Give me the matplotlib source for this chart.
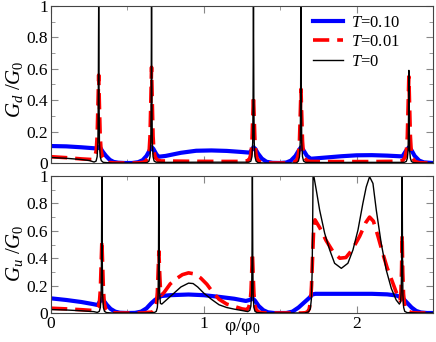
import matplotlib
matplotlib.use("Agg")
import matplotlib.pyplot as plt
from matplotlib.ticker import MultipleLocator

# ---- data (phi/phi0, G/G0) ----

# top panel: G_d
x_top_T0 = [0.0, 0.1, 0.2, 0.25, 0.282, 0.295, 0.302, 0.307, 0.3095, 0.311, 0.312, 0.313, 0.3145, 0.317, 0.322,
            0.329, 0.342, 0.4, 0.55, 0.628, 0.641, 0.648, 0.653, 0.6555, 0.657, 0.658, 0.659, 0.6605, 0.663, 0.668,
            0.675, 0.688, 0.75, 1.0, 1.2, 1.295, 1.308, 1.315, 1.320, 1.3225, 1.324, 1.325, 1.326, 1.3275, 1.330,
            1.335, 1.342, 1.355, 1.4, 1.55, 1.606, 1.619, 1.626, 1.631, 1.6335, 1.635, 1.636, 1.637, 1.6385, 1.641,
            1.646, 1.653, 1.666, 1.8, 2.0, 2.2, 2.312, 2.325, 2.332, 2.337, 2.3395, 2.341, 2.342, 2.343, 2.3445,
            2.347, 2.352, 2.359, 2.372, 2.42, 2.5]
y_top_T0 = [0.035, 0.03, 0.022, 0.016, 0.006, 0.012, 0.04, 0.13, 0.4, 0.8, 1.0, 0.8, 0.4, 0.13, 0.04,
            0.015, 0.004, 0.0, 0.0, 0.002, 0.012, 0.04, 0.13, 0.4, 0.8, 1.0, 0.8, 0.4, 0.13, 0.04,
            0.012, 0.005, 0.004, 0.005, 0.005, 0.005, 0.012, 0.04, 0.13, 0.4, 0.8, 1.0, 0.8, 0.4, 0.13,
            0.04, 0.012, 0.002, 0.0, 0.0, 0.0, 0.012, 0.04, 0.13, 0.4, 0.8, 1.0, 0.8, 0.4, 0.13,
            0.04, 0.012, 0.004, 0.003, 0.004, 0.004, 0.004, 0.01, 0.03, 0.08, 0.25, 0.48, 0.59, 0.48, 0.25,
            0.08, 0.03, 0.01, 0.002, 0.0, 0.0]

x_top_T001 = [0.0, 0.1, 0.2, 0.272, 0.287, 0.296, 0.302, 0.307, 0.312, 0.317, 0.322, 0.328, 0.337, 0.352, 0.38,
              0.42, 0.56, 0.60, 0.618, 0.633, 0.642, 0.648, 0.653, 0.658, 0.663, 0.668, 0.674, 0.683, 0.698, 0.72,
              0.9, 1.1, 1.25, 1.285, 1.300, 1.309, 1.315, 1.320, 1.325, 1.330, 1.335, 1.341, 1.350, 1.365, 1.39,
              1.45, 1.55, 1.596, 1.611, 1.620, 1.626, 1.631, 1.636, 1.641, 1.646, 1.652, 1.661, 1.676, 1.70,
              1.9, 2.1, 2.28, 2.302, 2.317, 2.326, 2.332, 2.337, 2.342, 2.347, 2.352, 2.358, 2.367, 2.382, 2.41,
              2.45, 2.5]
y_top_T001 = [0.04, 0.034, 0.026, 0.022, 0.04, 0.08, 0.17, 0.36, 0.56, 0.36, 0.17, 0.08, 0.035, 0.012, 0.003,
              0.0, 0.0, 0.004, 0.01, 0.03, 0.07, 0.17, 0.38, 0.61, 0.38, 0.17, 0.07, 0.035, 0.018, 0.013,
              0.011, 0.01, 0.01, 0.014, 0.028, 0.06, 0.13, 0.28, 0.43, 0.28, 0.13, 0.06, 0.025, 0.008, 0.002,
              0.0, 0.0, 0.005, 0.025, 0.06, 0.14, 0.3, 0.47, 0.3, 0.14, 0.06, 0.03, 0.014, 0.01,
              0.009, 0.009, 0.011, 0.016, 0.035, 0.08, 0.17, 0.36, 0.55, 0.36, 0.17, 0.07, 0.03, 0.01, 0.002,
              0.0, 0.0]

x_top_T010 = [0.0, 0.1, 0.2, 0.28, 0.3, 0.312, 0.322, 0.34, 0.36, 0.385, 0.41, 0.44, 0.48, 0.53, 0.57,
              0.6, 0.625, 0.645, 0.658, 0.67, 0.69, 0.705, 0.75, 0.85, 0.95, 1.05, 1.15, 1.25, 1.3, 1.315,
              1.325, 1.337, 1.355, 1.38, 1.41, 1.45, 1.5, 1.54, 1.57, 1.6, 1.62, 1.636, 1.65, 1.675, 1.7,
              1.8, 1.9, 2.0, 2.1, 2.2, 2.3, 2.325, 2.342, 2.36, 2.38, 2.41, 2.44, 2.5]
y_top_T010 = [0.108, 0.106, 0.1, 0.094, 0.092, 0.103, 0.097, 0.07, 0.045, 0.02, 0.007, 0.002, 0.0, 0.0, 0.005,
              0.018, 0.045, 0.08, 0.102, 0.09, 0.055, 0.04, 0.045, 0.065, 0.078, 0.08, 0.077, 0.07, 0.066, 0.085,
              0.1, 0.09, 0.06, 0.028, 0.008, 0.001, 0.0, 0.003, 0.015, 0.045, 0.078, 0.1, 0.085, 0.045, 0.027,
              0.035, 0.043, 0.049, 0.05, 0.047, 0.042, 0.08, 0.1, 0.08, 0.045, 0.015, 0.004, 0.0]

# bottom panel: G_u
x_bot_T0 = [0.0, 0.1, 0.2, 0.28, 0.303, 0.316, 0.323, 0.328, 0.3305, 0.332, 0.333, 0.334, 0.3355, 0.338, 0.343,
            0.350, 0.363, 0.40, 0.62, 0.676, 0.689, 0.696, 0.701, 0.7035, 0.705, 0.706, 0.707, 0.7085, 0.711, 0.716,
            0.725, 0.75, 0.8, 0.85, 0.9, 0.93, 0.96, 1.0, 1.05, 1.1, 1.15, 1.2, 1.25, 1.288, 1.301,
            1.308, 1.313, 1.3155, 1.317, 1.318, 1.319, 1.3205, 1.323, 1.328, 1.335, 1.348, 1.40, 1.66, 1.685, 1.697,
            1.704, 1.709, 1.712, 1.715, 1.72, 1.736, 1.758, 1.791, 1.824, 1.856, 1.9, 1.943, 1.976, 2.009, 2.041,
            2.063, 2.085, 2.107, 2.129, 2.161, 2.194, 2.227, 2.259, 2.28, 2.288, 2.292, 2.295, 2.297, 2.298, 2.299,
            2.3005, 2.303, 2.308, 2.315, 2.33, 2.4, 2.5]
y_bot_T0 = [0.025, 0.022, 0.016, 0.01, 0.004, 0.012, 0.04, 0.13, 0.4, 0.8, 1.0, 0.8, 0.4, 0.13, 0.04,
            0.012, 0.003, 0.0, 0.0, 0.003, 0.012, 0.04, 0.13, 0.4, 0.8, 1.0, 0.8, 0.4, 0.15, 0.07,
            0.065, 0.09, 0.14, 0.19, 0.218, 0.215, 0.19, 0.145, 0.1, 0.06, 0.04, 0.028, 0.018, 0.01, 0.02,
            0.05, 0.14, 0.4, 0.8, 1.0, 0.8, 0.4, 0.13, 0.04, 0.012, 0.003, 0.0, 0.0, 0.008, 0.03,
            0.1, 0.3, 0.6, 1.0, 1.0, 0.898, 0.752, 0.582, 0.46, 0.363, 0.326, 0.363, 0.46, 0.606, 0.8,
            0.92, 0.995, 0.946, 0.75, 0.509, 0.314, 0.18, 0.095, 0.065, 0.08, 0.16, 0.4, 0.8, 1.0, 0.8,
            0.4, 0.13, 0.04, 0.012, 0.003, 0.0, 0.0]

x_bot_T001 = [0.0, 0.1, 0.2, 0.28, 0.293, 0.308, 0.317, 0.323, 0.328, 0.333, 0.338, 0.343, 0.349, 0.358, 0.373,
              0.40, 0.44, 0.60, 0.64, 0.666, 0.681, 0.690, 0.696, 0.701, 0.706, 0.711, 0.716, 0.722, 0.74, 0.78,
              0.82, 0.86, 0.9, 0.94, 0.98, 1.02, 1.06, 1.1, 1.15, 1.2, 1.25, 1.28, 1.293, 1.303, 1.309,
              1.313, 1.318, 1.323, 1.328, 1.334, 1.343, 1.358, 1.38, 1.42, 1.64, 1.665, 1.68, 1.69, 1.70, 1.705,
              1.71, 1.715, 1.72, 1.728, 1.76, 1.80, 1.85, 1.89, 1.93, 1.97, 2.02, 2.06, 2.085, 2.11, 2.14,
              2.17, 2.2, 2.24, 2.27, 2.285, 2.29, 2.294, 2.298, 2.302, 2.307, 2.315, 2.33, 2.36, 2.4, 2.5]
y_bot_T001 = [0.035, 0.03, 0.024, 0.018, 0.02, 0.04, 0.08, 0.17, 0.35, 0.53, 0.35, 0.17, 0.07, 0.03, 0.01,
              0.002, 0.0, 0.0, 0.005, 0.006, 0.03, 0.07, 0.15, 0.3, 0.45, 0.3, 0.18, 0.13, 0.15, 0.212,
              0.25, 0.28, 0.293, 0.285, 0.255, 0.21, 0.15, 0.1, 0.065, 0.048, 0.03, 0.025, 0.04, 0.08, 0.16,
              0.28, 0.44, 0.28, 0.14, 0.06, 0.025, 0.008, 0.002, 0.0, 0.0, 0.002, 0.01, 0.03, 0.1, 0.2,
              0.35, 0.5, 0.64, 0.68, 0.62, 0.53, 0.44, 0.4, 0.405, 0.46, 0.56, 0.66, 0.7, 0.67, 0.56,
              0.44, 0.33, 0.21, 0.12, 0.09, 0.15, 0.3, 0.57, 0.3, 0.14, 0.05, 0.015, 0.003, 0.0, 0.0]

x_bot_T010 = [0.0, 0.1, 0.2, 0.28, 0.305, 0.32, 0.333, 0.345, 0.365, 0.39, 0.42, 0.45, 0.5, 0.55, 0.59,
              0.625, 0.655, 0.68, 0.70, 0.723, 0.78, 0.9, 1.0, 1.1, 1.2, 1.275, 1.3, 1.318, 1.335, 1.36,
              1.39, 1.42, 1.46, 1.54, 1.58, 1.62, 1.66, 1.69, 1.71, 1.73, 1.9, 2.1, 2.2, 2.26, 2.3,
              2.33, 2.36, 2.39, 2.42, 2.46, 2.5]
y_bot_T010 = [0.107, 0.095, 0.08, 0.064, 0.058, 0.085, 0.105, 0.09, 0.06, 0.03, 0.01, 0.002, 0.0, 0.001, 0.01,
              0.034, 0.07, 0.095, 0.11, 0.124, 0.13, 0.135, 0.13, 0.118, 0.104, 0.088, 0.095, 0.108, 0.09, 0.05,
              0.02, 0.005, 0.0, 0.0, 0.01, 0.04, 0.08, 0.11, 0.135, 0.14, 0.14, 0.14, 0.136, 0.128, 0.11,
              0.075, 0.04, 0.015, 0.004, 0.0, 0.0]

ytick_vals = [0, 0.2, 0.4, 0.6, 0.8, 1.0]
ytick_text = ["0", "0.2", "0.4", "0.6", "0.8", "1"]

plt.rcParams["font.family"] = "Liberation Serif"
plt.rcParams["mathtext.fontset"] = "custom"
plt.rcParams["mathtext.rm"] = "Liberation Serif"
plt.rcParams["mathtext.it"] = "Liberation Serif:italic"

fig = plt.figure(figsize=(4.36, 3.42), dpi=100)
ax1 = fig.add_axes([51 / 436, 1 - 163 / 342, 382 / 436, 157 / 342])
ax2 = fig.add_axes([51 / 436, 1 - 313 / 342, 382 / 436, 137 / 342])

dash = (4.5, 2.2)

ax1.plot(x_top_T010, y_top_T010, color="blue", lw=3.0, solid_joinstyle="round", label="$T$=0.10")
ax1.plot(x_top_T001, y_top_T001, color="red", lw=2.6, dashes=dash, label="$T$=0.01")
ax1.plot(x_top_T0, y_top_T0, color="black", lw=1.0, label="$T$=0")

ax2.plot(x_bot_T010, y_bot_T010, color="blue", lw=3.0, solid_joinstyle="round")
ax2.plot(x_bot_T001, y_bot_T001, color="red", lw=2.6, dashes=dash)
ax2.plot(x_bot_T0, y_bot_T0, color="black", lw=1.0)

for ax in (ax1, ax2):
    ax.set_xlim(0, 2.5)
    ax.set_ylim(0, 1)
    ax.xaxis.set_major_locator(MultipleLocator(1))
    ax.xaxis.set_minor_locator(MultipleLocator(0.5))
    ax.set_yticks(ytick_vals)
    ax.set_yticklabels(ytick_text)
    ax.yaxis.set_minor_locator(MultipleLocator(0.1))
    ax.tick_params(which="both", direction="in", top=True, right=True, color="#888888", labelsize=12.5, pad=2)
    ax.tick_params(which="major", length=5)
    ax.tick_params(which="minor", length=3)
    for s in ax.spines.values():
        s.set_color("#444444")

ax1.tick_params(labelbottom=False)
ax2.set_xticks([0, 1, 2])
ax2.set_xticklabels(["0", "1", "2"])

ax1.set_ylabel("$G_d$ /$G_0$", fontsize=15)
ax1.yaxis.set_label_coords(-0.068, 0.47)
ax2.set_ylabel("$G_u$ /$G_0$", fontsize=15)
ax2.yaxis.set_label_coords(-0.068, 0.44)
ax2.set_xlabel("φ/φ$_0$", fontsize=14)
ax2.xaxis.set_label_coords(0.5, -0.02)

ax1.legend(loc="upper left", bbox_to_anchor=(0.686, 0.945), frameon=False, fontsize=12,
           handlelength=1.8, handletextpad=0.45, labelspacing=0.22, borderpad=0, borderaxespad=0)

fig.savefig("out.png", dpi=100)
